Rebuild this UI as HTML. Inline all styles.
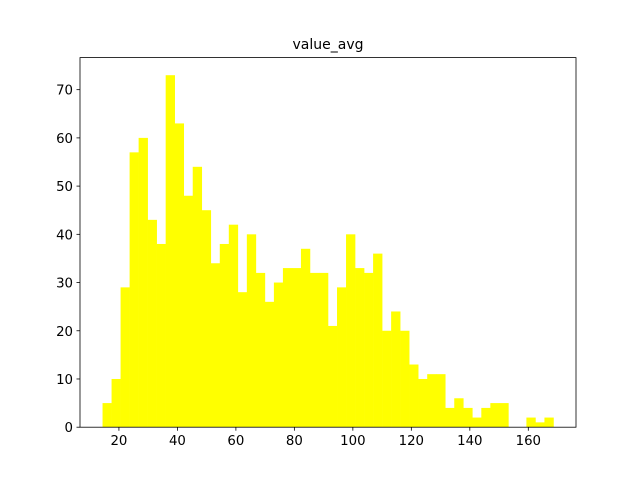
<!DOCTYPE html>
<html><head><meta charset="utf-8"><style>
body{margin:0;background:#fff;}
svg{display:block;font-family:"DejaVu Sans","Liberation Sans",sans-serif;}
</style></head><body>
<svg id="chart" width="640" height="480">
<rect width="640" height="480" fill="#fff"/>
<text x="328" y="49" font-size="14" text-anchor="middle">value_avg</text>
<g id="bars"></g>
<g id="axes"></g>
</svg>
<script>
const binStart = 14.4;
const binEnd = 168.6;
const counts = [5,10,29,57,60,43,38,73,63,48,54,45,34,38,42,28,40,32,26,30,33,33,37,32,32,21,29,40,33,32,36,20,24,20,13,10,11,11,4,6,4,2,4,5,5,0,0,2,1,2];
const xTicks = [20,40,60,80,100,120,140,160];
const yTicks = [0,10,20,30,40,50,60,70];

const L=80,R=576,T=57.6,B=427.2;
const xMin=binStart-(binEnd-binStart)*0.05, xMax=binEnd+(binEnd-binStart)*0.05;
const yMax=Math.max(...counts)*1.05;
const xs=v=>L+(v-xMin)/(xMax-xMin)*(R-L);
const ys=v=>B-v/yMax*(B-T);
const NS="http://www.w3.org/2000/svg";
const bars=document.getElementById('bars'), axes=document.getElementById('axes');
const bw=(binEnd-binStart)/counts.length;
counts.forEach((c,i)=>{
  if(!c) return;
  const r=document.createElementNS(NS,'rect');
  const x0=xs(binStart+i*bw), x1=xs(binStart+(i+1)*bw);
  r.setAttribute('x',x0);r.setAttribute('width',x1-x0+0.3);
  r.setAttribute('y',ys(c));r.setAttribute('height',B-ys(c));
  r.setAttribute('fill','#ffff00');
  
  
  bars.appendChild(r);
});
const frame=document.createElementNS(NS,'rect');
frame.setAttribute('x',L);frame.setAttribute('y',T);frame.setAttribute('width',R-L);frame.setAttribute('height',B-T);
frame.setAttribute('fill','none');frame.setAttribute('stroke','#000');frame.setAttribute('stroke-width','0.8');


axes.appendChild(frame);
xTicks.forEach(t=>{
  const x=xs(t);
  const l=document.createElementNS(NS,'line');
  l.setAttribute('x1',x);l.setAttribute('x2',x);l.setAttribute('y1',B);l.setAttribute('y2',B+3.5);l.setAttribute('stroke','#000');l.setAttribute('stroke-width','0.8');
  
  
  axes.appendChild(l);
  const tx=document.createElementNS(NS,'text');
  tx.setAttribute('x',x);tx.setAttribute('y',B+18);tx.setAttribute('font-size','13.3');tx.setAttribute('text-anchor','middle');
  tx.textContent=t;
  
  
  axes.appendChild(tx);
});
yTicks.forEach(t=>{
  const y=ys(t);
  const l=document.createElementNS(NS,'line');
  l.setAttribute('x1',L-3.5);l.setAttribute('x2',L);l.setAttribute('y1',y);l.setAttribute('y2',y);l.setAttribute('stroke','#000');l.setAttribute('stroke-width','0.8');
  
  
  axes.appendChild(l);
  const tx=document.createElementNS(NS,'text');
  tx.setAttribute('x',L-7);tx.setAttribute('y',y+5);tx.setAttribute('font-size','13.3');tx.setAttribute('text-anchor','end');
  tx.textContent=t;
  
  
  axes.appendChild(tx);
});
</script>
</body></html>
